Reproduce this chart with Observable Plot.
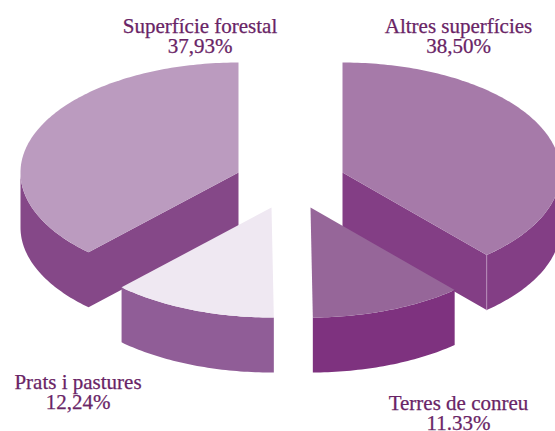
<!DOCTYPE html>
<html>
<head>
<meta charset="utf-8">
<script src="https://cdn.jsdelivr.net/npm/d3@7"></script>
<script src="https://cdn.jsdelivr.net/npm/@observablehq/plot@0.6"></script>
<style>html,body{margin:0;padding:0;background:#fff;overflow:hidden}</style>
</head>
<body>
<div id="chart"></div>
<script>
const labels = ["Altres superfícies", "Terres de conreu", "Prats i pastures", "Superfície forestal"];
const valueLabels = ["38,50%", "11.33%", "12,24%", "37,93%"];
const shares = [38.50, 11.33, 12.24, 37.93];
const topColors = ["#a67aa9", "#966699", "#efe8f2", "#bb9bbf"];
const sideColors = ["#833e85", "#7e327f", "#905d97", "#854888"];
const apexX = [342, 310, 271, 238];
const apexY = [172, 207, 207, 172];
const labelX = [458, 458, 77.5, 199.5];
const labelY = [32, 409, 388, 32];

const RX = 218, RY = 110, DEPTH = 55, TEXT = "#692466";
const rad = d => d * Math.PI / 180;
const pt = (i, deg, dy = 0) => ({
  x: apexX[i] + RX * Math.sin(rad(deg)),
  y: apexY[i] - RY * Math.cos(rad(deg)) + dy
});
const arc = (i, a, b, dy = 0) => {
  const n = Math.max(2, Math.ceil(Math.abs(b - a)));
  return d3.range(n + 1).map(k => pt(i, a + (b - a) * k / n, dy));
};

let cum = 0;
const slices = shares.map((s, i) => {
  const start = cum * 3.6; cum += s; const end = cum * 3.6;
  return {i, start, end};
});

function faces({i, start, end}) {
  const apex = {x: apexX[i], y: apexY[i]};
  const low = {x: apex.x, y: apex.y + DEPTH};
  const top = [apex, ...arc(i, start, end)];
  const a = Math.max(start, 90), b = Math.min(end, 270);
  let side;
  if (i === 0) {        // rim and radial wall as one outline
    side = [...arc(i, a, b), apex, low, ...arc(i, b, a, DEPTH)];
  } else if (i === 3) {
    side = [...arc(i, b, a, DEPTH), low, apex, ...arc(i, a, b)];
  } else {              // front slices only show their rim
    side = [...arc(i, a, b), ...arc(i, b, a, DEPTH)];
  }
  return {top, side};
}

const closed = {x: "x", y: "y", curve: "linear-closed"};
const order = [3, 0, 2, 1]; // back slices first
const marks = [];
for (const i of order) {
  const f = faces(slices[i]);
  marks.push(Plot.line(f.side, {...closed, fill: sideColors[i], stroke: "none"}));
  marks.push(Plot.line(f.top, {...closed, fill: topColors[i], stroke: "none"}));
}
// light seam where the rim of the first slice meets its radial wall
const seam = pt(0, slices[0].end);
marks.push(Plot.line([seam, {x: seam.x, y: seam.y + DEPTH}], {x: "x", y: "y", stroke: "#c9a9cc", strokeWidth: 0.8}));

const textRows = labels.flatMap((l, i) => [
  {t: l, x: labelX[i], y: labelY[i]},
  {t: valueLabels[i], x: labelX[i], y: labelY[i] + 20.5}
]);
marks.push(Plot.text(textRows, {
  x: "x", y: "y", text: "t", textAnchor: "middle", lineAnchor: "bottom",
  fontFamily: "Liberation Serif", fontSize: 21, fill: TEXT, stroke: TEXT, strokeWidth: 0.25
}));

const chart = Plot.plot({
  width: 555, height: 431,
  marginTop: 0, marginRight: 0, marginBottom: 0, marginLeft: 0,
  x: {type: "identity", axis: null}, y: {type: "identity", axis: null},
  style: {background: "#fff"},
  marks
});
document.getElementById("chart").append(chart);
</script>
</body>
</html>
